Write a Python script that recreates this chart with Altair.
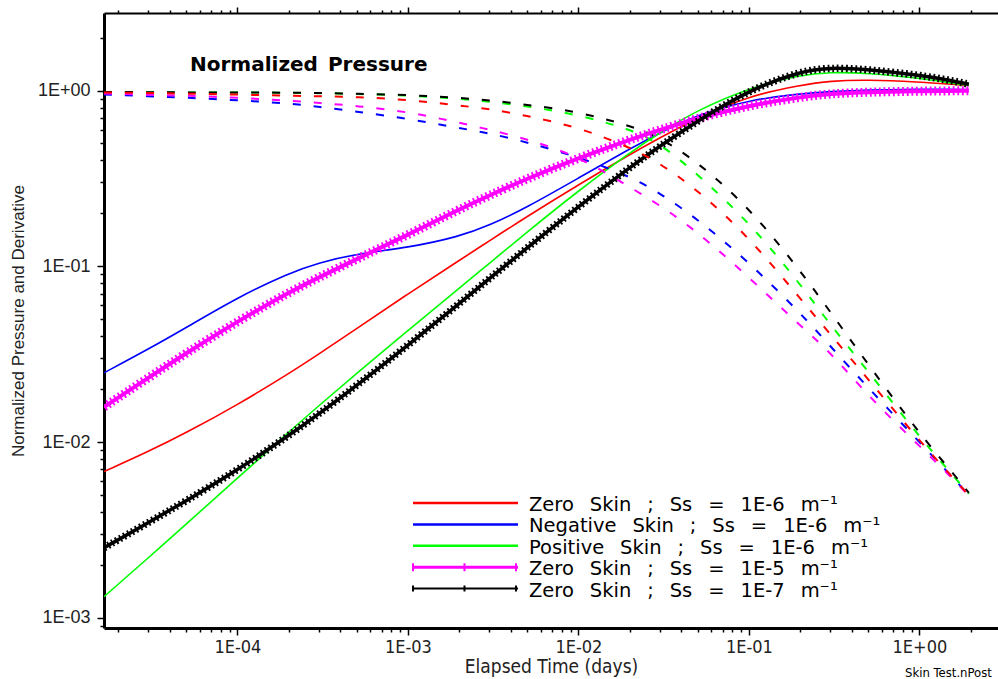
import altair as alt
import pandas as pd

# ---------------- data ----------------
time_days = [1.65e-5, 3e-5, 5e-5, 1e-4, 2e-4, 3e-4, 5e-4, 1e-3, 2e-3, 3e-3, 5e-3,
             1e-2, 2e-2, 3e-2, 5e-2, 0.1, 0.2, 0.3, 0.5, 1.0, 1.5, 1.95]

# derivative curves (solid)
deriv_zero_1e6 = [0.0068, 0.00883, 0.0113, 0.0163, 0.0245, 0.0317, 0.0442, 0.0698, 0.108, 0.1396, 0.192,
                  0.291, 0.4325, 0.538, 0.70, 0.933, 1.072, 1.135, 1.153, 1.117, 1.086, 1.069]
deriv_neg_1e6 = [0.0248, 0.0338, 0.0448, 0.0665, 0.0915, 0.1048, 0.118, 0.1275, 0.1476, 0.1706, 0.2168,
                 0.3177, 0.4656, 0.5754, 0.7278, 0.8831, 0.9594, 0.9863, 1.007, 1.017, 1.017, 1.013]
deriv_pos_1e6 = [0.001321, 0.002198, 0.003412, 0.006237, 0.0114, 0.01611, 0.0246, 0.04315, 0.07516, 0.104, 0.1567,
                 0.2692, 0.4436, 0.5754, 0.7745, 1.035, 1.230, 1.271, 1.259, 1.175, 1.109, 1.067]
deriv_zero_1e5 = [0.01585, 0.02323, 0.03206, 0.04864, 0.07100, 0.08650, 0.1100, 0.1510, 0.2110, 0.2530, 0.3155,
                  0.413, 0.526, 0.597, 0.6966, 0.8222, 0.9183, 0.9594, 0.9795, 0.9917, 0.9959, 0.9959]
deriv_zero_1e7 = [0.002506, 0.003483, 0.004634, 0.006934, 0.01089, 0.01445, 0.02099, 0.03556, 0.06152, 0.08511, 0.1274,
                  0.2188, 0.3656, 0.4819, 0.6714, 1.005, 1.288, 1.352, 1.318, 1.222, 1.146, 1.086]

# normalized pressure curves (dashed)
press_zero_1e6 = [0.975, 0.968, 0.960, 0.948, 0.935, 0.928, 0.918, 0.888, 0.821, 0.786, 0.718,
                  0.619, 0.476, 0.386, 0.272, 0.147, 0.0655, 0.0412, 0.0228, 0.0102, 0.0066, 0.0050]
press_neg_1e6 = [0.949, 0.929, 0.910, 0.881, 0.844, 0.809, 0.758, 0.692, 0.611, 0.572, 0.508,
                 0.418, 0.326, 0.261, 0.186, 0.1057, 0.0543, 0.0352, 0.0204, 0.0100, 0.0066, 0.0050]
press_pos_1e6 = [0.982, 0.978, 0.975, 0.974, 0.972, 0.966, 0.956, 0.940, 0.898, 0.864, 0.814,
                 0.729, 0.603, 0.502, 0.334, 0.179, 0.0794, 0.0464, 0.0254, 0.0107, 0.00682, 0.00508]
press_zero_1e5 = [0.962, 0.946, 0.936, 0.910, 0.875, 0.851, 0.817, 0.758, 0.656, 0.599, 0.529,
                  0.424, 0.282, 0.223, 0.157, 0.0869, 0.0458, 0.0326, 0.0183, 0.0095, 0.0065, 0.00495]
press_zero_1e7 = [0.982, 0.978, 0.975, 0.974, 0.973, 0.968, 0.959, 0.945, 0.909, 0.881, 0.830,
                  0.758, 0.631, 0.543, 0.392, 0.217, 0.0947, 0.0551, 0.0277, 0.0112, 0.00703, 0.00515]

series_labels = ["Zero Skin ; Ss = 1E-6 m\u207b\u00b9",
                 "Negative Skin ; Ss = 1E-6 m\u207b\u00b9",
                 "Positive Skin ; Ss = 1E-6 m\u207b\u00b9",
                 "Zero Skin ; Ss = 1E-5 m\u207b\u00b9",
                 "Zero Skin ; Ss = 1E-7 m\u207b\u00b9"]
series_colors = ["#ff0000", "#0000ff", "#00ff00", "#ff00ff", "#000000"]
series_markers = [False, False, False, True, True]
series_deriv = [deriv_zero_1e6, deriv_neg_1e6, deriv_pos_1e6, deriv_zero_1e5, deriv_zero_1e7]
series_press = [press_zero_1e6, press_neg_1e6, press_pos_1e6, press_zero_1e5, press_zero_1e7]

plot_title = "Normalized\u2002Pressure"
x_title = "Elapsed Time (days)"
y_title = "Normalized Pressure and Derivative"
footer_text = "Skin Test.nPost"

# ---------------- styling / layout ----------------
FONT = "Liberation Sans"
NARROW = "Liberation Sans Narrow, DejaVu Sans Condensed, Liberation Sans"
LEG_FONT = "DejaVu Sans"
W, H = 894, 615
X_DOMAIN = [1.65e-5, 2.89]
Y_DOMAIN = [8.77e-4, 2.76]

xscale = alt.Scale(type="log", domain=X_DOMAIN, nice=False)
yscale = alt.Scale(type="log", domain=Y_DOMAIN, nice=False)


def log_ticks(lo, hi, e0, e1):
    vals = []
    for e in range(e0, e1 + 1):
        for m in range(1, 10):
            v = m * 10.0 ** e
            if lo <= v <= hi:
                vals.append(v)
    return vals


x_ticks = log_ticks(X_DOMAIN[0], X_DOMAIN[1], -5, 0)
y_ticks = log_ticks(Y_DOMAIN[0], Y_DOMAIN[1], -4, 0)

LG = "log(datum.value)/LN10"
IS_MAJOR = f"abs({LG} - round({LG})) < 0.01"
LABEL_EXPR = (f"{IS_MAJOR} ? (round({LG}) < 0 ? '1E-0' + abs(round({LG})) : "
              f"'1E+0' + round({LG})) : ''")

x_axis_bottom = alt.Axis(
    orient="bottom", values=x_ticks, labelExpr=LABEL_EXPR,
    tickSize={"condition": {"test": IS_MAJOR, "value": 7}, "value": 4},
    tickWidth=1.5, tickColor="black", domainColor="black", domainWidth=3,
    labelFont=NARROW, labelFontSize=18, labelColor="#222222", labelPadding=3,
    labelOverlap=False, labelFlush=False, grid=False,
    title=x_title, titleFont=NARROW, titleFontSize=19, titleFontWeight="normal",
    titleColor="#222222", titlePadding=1,
)
x_axis_top = alt.Axis(
    orient="top", values=x_ticks, labels=False,
    tickSize={"condition": {"test": IS_MAJOR, "value": 6}, "value": 3},
    tickWidth=1.5, tickColor="black", domainColor="black", domainWidth=2,
    grid=False, title="",
)
y_axis = alt.Axis(
    orient="left", values=y_ticks, labelExpr=LABEL_EXPR,
    tickSize={"condition": {"test": IS_MAJOR, "value": 7}, "value": 4},
    tickWidth=1.5, tickColor="black", domainColor="black", domainWidth=3,
    labelFont=FONT, labelFontSize=18, labelColor="#222222", labelPadding=7,
    labelOverlap=False, labelFlush=False, grid=False,
    title=y_title, titleFont=FONT, titleFontSize=17, titleFontWeight="normal",
    titleColor="#222222", titlePadding=10,
)


def curve(values, color, width, dash=None, x_axis=x_axis_bottom):
    df = pd.DataFrame({"t": time_days, "v": values})
    kw = dict(color=color, strokeWidth=width, interpolate="basis", clip=True)
    if dash is not None:
        kw["strokeDash"] = dash
    return alt.Chart(df).mark_line(**kw).encode(
        x=alt.X("t:Q", scale=xscale, axis=x_axis),
        y=alt.Y("v:Q", scale=yscale, axis=y_axis),
    )


layers = []
# solid derivative curves (plain)
for vals, col, mk in zip(series_deriv, series_colors, series_markers):
    if not mk:
        layers.append(curve(vals, col, 1.6))

# dashed normalized-pressure curves (the first one is drawn in the outer layer with the top axis)
for i, (vals, col) in enumerate(zip(series_press, series_colors)):
    if i > 0:
        layers.append(curve(vals, col, 2, dash=[8, 13]))

# derivative curves drawn with "+" markers
for vals, col, mk in zip(series_deriv, series_colors, series_markers):
    if mk:
        thick = 4 if col == "#ff00ff" else 3.5
        tick = 9 if col == "#ff00ff" else 7.5
        layers.append(curve(vals, col, thick))
        layers.append(curve(vals, col, tick, dash=[1.8, 2.8]))

# annotation: title inside the plot
layers.append(
    alt.Chart(pd.DataFrame({"txt": [plot_title]})).mark_text(
        align="left", baseline="alphabetic", font=LEG_FONT, fontSize=20, fontWeight="bold", color="black"
    ).encode(text="txt:N", x=alt.value(86), y=alt.value(58))
)

# footer text
layers.append(
    alt.Chart(pd.DataFrame({"txt": [footer_text]})).mark_text(
        align="left", baseline="alphabetic", font=NARROW, fontSize=13, color="black"
    ).encode(text="txt:N", x=alt.value(801), y=alt.value(664))
)

# manual legend
LEG_X0, LEG_X1, LEG_TX = 309, 414, 425
LEG_Y0, LEG_DY = 490, 21.4
GAP = "\u2002\u00a0"
for i, (lab, col, mk) in enumerate(zip(series_labels, series_colors, series_markers)):
    yy = LEG_Y0 + i * LEG_DY
    base_w = 2.5
    if mk:
        base_w = 3 if col == "#ff00ff" else 2
    layers.append(
        alt.Chart(pd.DataFrame({"k": [0]})).mark_rule(color=col, strokeWidth=base_w).encode(
            x=alt.value(LEG_X0), x2=alt.value(LEG_X1), y=alt.value(yy))
    )
    if mk:
        tk = 8 if col == "#ff00ff" else 6
        layers.append(
            alt.Chart(pd.DataFrame({"k": [0]})).mark_rule(
                color=col, strokeWidth=tk, strokeDash=[2, 49.5]).encode(
                x=alt.value(LEG_X0 - 1), x2=alt.value(LEG_X1 + 1), y=alt.value(yy))
        )
    layers.append(
        alt.Chart(pd.DataFrame({"txt": [lab.replace(" ", GAP)]})).mark_text(
            align="left", baseline="alphabetic", font=LEG_FONT, fontSize=19.5, color="black"
        ).encode(text="txt:N", x=alt.value(LEG_TX), y=alt.value(yy + 8))
    )

inner = alt.layer(*layers)
top_carrier = curve(series_press[0], series_colors[0], 2, dash=[8, 13], x_axis=x_axis_top)

chart = alt.layer(inner, top_carrier).resolve_axis(x="independent").properties(
    width=W, height=H,
    padding={"left": 104, "top": 13, "right": 0, "bottom": 51},
    autosize=alt.AutoSizeParams(type="none"),
    background="white",
).configure_view(strokeWidth=0)

chart.save("out.html", embed_options={"renderer": "svg", "actions": False})
